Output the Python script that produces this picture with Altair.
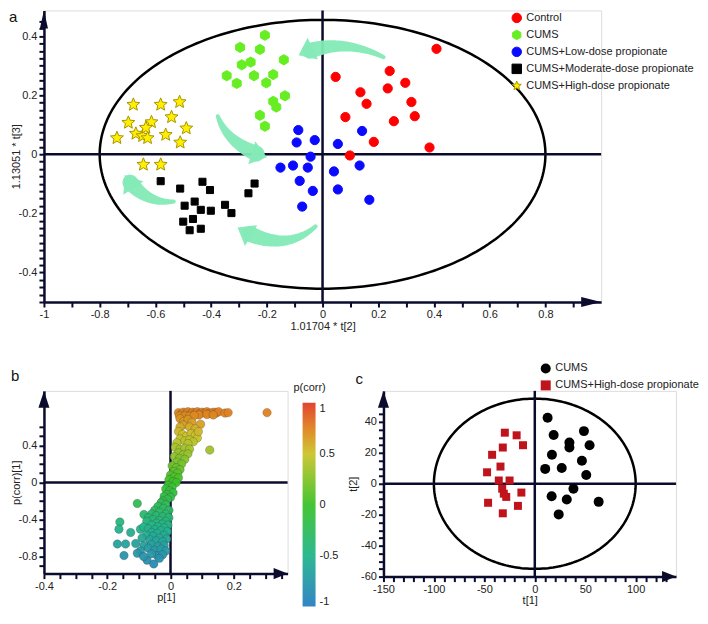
import math
import numpy as np
import pandas as pd
import altair as alt

FONT = "Liberation Sans"
NAVY = "#0b0b2e"
TXT = "#222222"

# ---------------- Panel a data (OPLS-DA scores) ----------------
a_groups = ["Control", "CUMS", "CUMS+Low-dose propionate",
            "CUMS+Moderate-dose propionate", "CUMS+High-dose propionate"]
ctrl_x = [0.409, 0.241, 0.297, 0.136, 0.234, 0.158, 0.319, 0.082, 0.331, 0.256, 0.184, 0.384, 0.098, 0.047]
ctrl_y = [0.357, 0.282, 0.242, 0.210, 0.223, 0.171, 0.177, 0.126, 0.129, 0.112, 0.042, 0.023, -0.004, 0.262]
cums_x = [-0.207, -0.296, -0.225, -0.139, -0.290, -0.258, -0.344, -0.246, -0.177, -0.308, -0.202, -0.135, -0.177, -0.166, -0.225, -0.207]
cums_y = [0.403, 0.362, 0.355, 0.320, 0.303, 0.312, 0.266, 0.266, 0.270, 0.240, 0.242, 0.198, 0.179, 0.160, 0.132, 0.095]
low_x = [-0.087, -0.093, -0.028, 0.055, -0.043, -0.151, -0.106, -0.053, 0.041, -0.082, -0.035, 0.055, -0.073, 0.142, 0.133, 0.168]
low_y = [0.082, 0.040, 0.048, 0.035, -0.008, -0.045, -0.038, -0.045, -0.058, -0.090, -0.124, -0.119, -0.177, 0.079, -0.038, -0.154]
mod_x = [-0.581, -0.511, -0.431, -0.404, -0.244, -0.266, -0.495, -0.459, -0.437, -0.401, -0.350, -0.327, -0.500, -0.465, -0.477, -0.437]
mod_y = [-0.091, -0.116, -0.093, -0.121, -0.099, -0.132, -0.174, -0.160, -0.188, -0.191, -0.171, -0.199, -0.228, -0.219, -0.257, -0.252]
high_x = [-0.679, -0.581, -0.513, -0.542, -0.697, -0.614, -0.489, -0.738, -0.670, -0.646, -0.628, -0.563, -0.511, -0.634, -0.643, -0.581]
high_y = [0.168, 0.168, 0.177, 0.126, 0.107, 0.109, 0.088, 0.055, 0.070, 0.062, 0.055, 0.066, 0.040, 0.090, -0.035, -0.035]

a_fill = ["#ff0000", "#66ee22", "#0a0aff", "#000000", "#ffee00"]
a_stroke = ["#ff0000", "#66ee22", "#0a0aff", "#000000", "#a89400"]
a_size = [85, 105, 85, 50, 185]

# curved arrows (tail, bend, tip) in data units of panel a
arrow_tail_x = [0.219, -0.376, -0.534, -0.025]
arrow_tail_y = [0.329, 0.129, -0.160, -0.244]
arrow_bend_x = [0.060, -0.340, -0.640, -0.140]
arrow_bend_y = [0.400, 0.030, -0.170, -0.340]
arrow_tip_x = [-0.086, -0.200, -0.710, -0.305]
arrow_tip_y = [0.335, -0.010, -0.070, -0.248]

# ---------------- Panel b data (S-plot) ----------------
corr_x = [0.025, 0.033, 0.040, 0.048, 0.055, 0.062, 0.070, 0.078, 0.085, 0.093, 0.100, 0.108, 0.115, 0.122,
          0.130, 0.138, 0.145, 0.152, 0.172, 0.182, 0.305, 0.028, 0.045, 0.060, 0.090, 0.115, 0.135, 0.075,
          0.030, 0.042, 0.055, 0.068, 0.040, 0.095, 0.060, 0.078, 0.030,
          0.025, 0.038, 0.050, 0.065, 0.078, 0.085, 0.030, 0.045, 0.060, 0.072, 0.020, 0.055, 0.088, 0.124,
          0.015, 0.030, 0.045, 0.060, 0.025, 0.040, 0.055, 0.012, 0.028, 0.045, 0.020, 0.035,
          0.005, 0.018, 0.030, 0.010, 0.022, 0.000, 0.012, 0.025, -0.005, 0.008, 0.018,
          -0.008, 0.005, -0.015, -0.002, 0.008, -0.012, -0.020, 0.000, -0.010, -0.025, -0.105,
          -0.030, -0.015, -0.040, -0.022, -0.005, -0.050, -0.035, -0.015, -0.060, -0.045, -0.025, -0.005,
          -0.084, -0.070, -0.055, -0.035, -0.015, -0.075, -0.045, -0.025, -0.008, -0.060, -0.160, -0.163,
          -0.126, -0.095, -0.085, -0.040, -0.020, -0.070, -0.050,
          -0.030, -0.010, -0.060, -0.042, -0.020, -0.075, -0.055, -0.035, -0.012, -0.090, -0.065, -0.045,
          -0.025, -0.168, -0.142, -0.110, -0.084, -0.060, -0.040, -0.020, -0.070, -0.050, -0.030, -0.015,
          -0.095, -0.147, -0.105, -0.074, -0.053, -0.042, -0.060, -0.025, -0.085, -0.035]
corr_y = [0.755, 0.735, 0.760, 0.745, 0.765, 0.740, 0.760, 0.750, 0.765, 0.745, 0.760, 0.750, 0.765, 0.745,
          0.755, 0.760, 0.750, 0.765, 0.750, 0.755, 0.755, 0.720, 0.720, 0.715, 0.730, 0.735, 0.730, 0.725,
          0.690, 0.660, 0.680, 0.650, 0.620, 0.630, 0.600, 0.580, 0.600,
          0.550, 0.520, 0.500, 0.530, 0.510, 0.480, 0.470, 0.450, 0.460, 0.440, 0.430, 0.420, 0.550, 0.350,
          0.380, 0.360, 0.370, 0.360, 0.320, 0.300, 0.310, 0.280, 0.260, 0.250, 0.220, 0.200,
          0.180, 0.160, 0.140, 0.120, 0.100, 0.080, 0.060, 0.050, 0.030, 0.010, 0.000,
          -0.030, -0.050, -0.070, -0.090, -0.110, -0.130, -0.150, -0.160, -0.180, -0.200, -0.227,
          -0.220, -0.240, -0.260, -0.280, -0.300, -0.300, -0.320, -0.340, -0.340, -0.360, -0.370, -0.380,
          -0.345, -0.380, -0.400, -0.410, -0.420, -0.420, -0.440, -0.450, -0.460, -0.460, -0.427, -0.505,
          -0.540, -0.505, -0.480, -0.480, -0.490, -0.500, -0.510,
          -0.520, -0.530, -0.540, -0.550, -0.570, -0.570, -0.580, -0.600, -0.610, -0.600, -0.620, -0.630,
          -0.640, -0.665, -0.665, -0.660, -0.680, -0.670, -0.690, -0.680, -0.710, -0.730, -0.720, -0.740,
          -0.740, -0.790, -0.765, -0.840, -0.880, -0.790, -0.770, -0.780, -0.800, -0.820]
corr_stops = [-1.0, -0.5, 0.0, 0.5, 0.75, 1.0]
corr_colors = ["#2a7ec2", "#22b58c", "#3cc22a", "#cbc42a", "#e0821f", "#e03a26"]

# ---------------- Panel c data (OPLS-DA scores) ----------------
c_groups = ["CUMS", "CUMS+High-dose propionate"]
c_cums_x = [12.7, 18.7, 34.3, 34.3, 48.7, 54.3, 17.0, 10.3, 26.7, 46.7, 51.0, 38.3, 16.7, 31.7, 23.7, 63.3]
c_cums_y = [42.6, 31.5, 26.6, 23.4, 34.0, 24.9, 18.7, 9.6, 10.2, 14.9, 5.7, -3.2, -8.1, -10.2, -19.8, -11.7]
c_high_x = [-29.7, -18.0, -11.7, -31.7, -42.3, -34.0, -47.3, -35.7, -25.0, -32.3, -30.7, -28.3, -13.3, -46.3, -16.7, -31.7]
c_high_y = [33.0, 31.3, 24.9, 23.4, 18.7, 11.1, 7.4, 2.1, 2.1, -3.2, -6.4, -8.5, -5.7, -12.3, -14.3, -19.1]
c_fill = ["#000000", "#c0141c"]
c_size = [100, 64]

# ---------------- geometry helpers ----------------
def star_path(r_in=0.45):
    pts = []
    for k in range(10):
        r = 1.0 if k % 2 == 0 else r_in
        ang = -math.pi / 2 + k * math.pi / 5
        pts.append((r * math.cos(ang), r * math.sin(ang)))
    return "M" + "L".join(f"{x:.3f},{y:.3f}" for x, y in pts) + "Z"


def hex_path():
    pts = []
    for k in range(6):
        ang = -math.pi / 2 + k * math.pi / 3
        pts.append((math.cos(ang), math.sin(ang)))
    return "M" + "L".join(f"{x:.3f},{y:.3f}" for x, y in pts) + "Z"


STAR = star_path()
HEX = hex_path()
ARR_R_A = "M0,0L-2,-0.5L-2,0.5Z"
ARR_U_A = "M0,0L-0.45,2L0.45,2Z"
ARR_R_B = "M0,0L-2,-0.8L-2,0.8Z"
ARR_U_B = "M0,0L-0.65,2L0.65,2Z"
HEAD = "M0,0L-1.15,1.5L1.15,1.5Z"


def ticks(lo, hi, step):
    n = int(round((hi - lo) / step))
    return [round(lo + i * step, 6) for i in range(n + 1)]


def axis(title, vals, major, **kw):
    return alt.Axis(
        title=title, values=vals, grid=False,
        labelExpr=f"abs(datum.value/{major} - round(datum.value/{major})) < 0.001 ? '' + datum.value : ''",
        labelOverlap=False, labelFlush=False,
        domainColor=NAVY, domainWidth=2.5, tickColor=NAVY, tickWidth=2, tickSize=5,
        labelFont=FONT, labelFontSize=11, labelColor=TXT, labelPadding=2,
        titleFont=FONT, titleFontSize=11, titleFontWeight="normal", titleColor=TXT, **kw)


def ellipse_df(rx, ry, n=241):
    t = np.linspace(0, 2 * np.pi, n)
    return pd.DataFrame({"x": rx * np.cos(t), "y": ry * np.sin(t), "i": np.arange(n)})


def panel_common(xenc, yenc, xdom, ydom, rpath, upath, asize, letter, lx, ly):
    rules = pd.DataFrame({"x": [xdom[0], 0.0], "x2": [xdom[1], 0.0],
                          "y": [0.0, ydom[0]], "y2": [0.0, ydom[1]]})
    rule = alt.Chart(rules).mark_rule(color=NAVY, strokeWidth=2.5).encode(
        x=xenc, y=yenc, x2="x2:Q", y2="y2:Q")
    ar = alt.Chart(pd.DataFrame({"x": [xdom[1]], "y": [ydom[0]]})).mark_point(
        shape=rpath, size=asize[0], filled=True, color=NAVY, opacity=1).encode(x=xenc, y=yenc)
    au = alt.Chart(pd.DataFrame({"x": [xdom[0]], "y": [ydom[1]]})).mark_point(
        shape=upath, size=asize[1], filled=True, color=NAVY, opacity=1).encode(x=xenc, y=yenc)
    lab = alt.Chart(pd.DataFrame({"label": [letter]})).mark_text(
        align="left", baseline="top", fontSize=15, font=FONT, color="#111").encode(
        x=alt.value(lx), y=alt.value(ly), text="label:N")
    return rule, ar, au, lab


def group_layers(df, field, groups, fills, strokes, shapes, sizes, legend, xenc, yenc, sw):
    layers = []
    for g, sz in zip(groups, sizes):
        layers.append(
            alt.Chart(df[df[field] == g]).mark_point(filled=True, opacity=1, size=sz, strokeWidth=sw).encode(
                x=xenc, y=yenc,
                fill=alt.Fill(f"{field}:N", scale=alt.Scale(domain=groups, range=fills), legend=legend),
                stroke=alt.Stroke(f"{field}:N", scale=alt.Scale(domain=groups, range=strokes), legend=legend),
                shape=alt.Shape(f"{field}:N", scale=alt.Scale(domain=groups, range=shapes), legend=legend),
            ))
    return layers


# ---------------- Panel a ----------------
A_XDOM = [-1.0, 1.0]
A_YDOM = [-0.5, 0.487]
W_A, H_A = 558, 292
PX_A = W_A / (A_XDOM[1] - A_XDOM[0])
PY_A = H_A / (A_YDOM[1] - A_YDOM[0])

xa = alt.X("x:Q", scale=alt.Scale(domain=A_XDOM, nice=False, zero=False),
           axis=axis("1.01704 * t[2]", ticks(-1, 0.9, 0.1), 0.2, titlePadding=1))
ya = alt.Y("y:Q", scale=alt.Scale(domain=A_YDOM, nice=False, zero=False),
           axis=axis("1.13051 * t[3]", ticks(-0.5, 0.45, 0.025), 0.2, titlePadding=-3))

a_df = pd.concat([
    pd.DataFrame({"x": xs, "y": ys, "group": g})
    for g, xs, ys in zip(a_groups, [ctrl_x, cums_x, low_x, mod_x, high_x],
                         [ctrl_y, cums_y, low_y, mod_y, high_y])
], ignore_index=True)

a_leg = alt.Legend(orient="none", legendX=468, legendY=2, title=None, labelFont=FONT,
                   labelFontSize=11, labelColor=TXT, symbolSize=90, rowPadding=2,
                   labelOffset=4, padding=0, symbolStrokeWidth=1, labelLimit=400)
a_points = group_layers(a_df, "group", a_groups, a_fill, a_stroke,
                        ["circle", HEX, "circle", "square", STAR], a_size, a_leg, xa, ya, 1)

a_ell = alt.Chart(ellipse_df(0.8, 0.455)).mark_line(color="#000000", strokeWidth=2.5).encode(
    x=xa, y=ya, order="i:Q")

# curved arrows
body_rows, head_rows = [], []
for k in range(len(arrow_tail_x)):
    p0 = np.array([arrow_tail_x[k], arrow_tail_y[k]])
    p1 = np.array([arrow_bend_x[k], arrow_bend_y[k]])
    p2 = np.array([arrow_tip_x[k], arrow_tip_y[k]])
    for t in np.linspace(0, 0.86, 24):
        p = (1 - t) ** 2 * p0 + 2 * (1 - t) * t * p1 + t ** 2 * p2
        body_rows.append({"x": p[0], "y": p[1], "t": t, "arrow": k, "w": 4 + 12 * t / 0.86})
    dx = (p2[0] - p1[0]) * PX_A
    dy = -(p2[1] - p1[1]) * PY_A
    ang = math.degrees(math.atan2(dx, -dy)) % 360
    head_rows.append({"x": p2[0], "y": p2[1], "ang": ang})

ARROW_COL = "#84eab6"
a_body = alt.Chart(pd.DataFrame(body_rows)).mark_trail(color=ARROW_COL, opacity=0.95).encode(
    x=xa, y=ya, detail="arrow:N", order="t:Q", size=alt.Size("w:Q", scale=None))
a_head = alt.Chart(pd.DataFrame(head_rows)).mark_point(
    shape=HEAD, size=440, filled=True, color=ARROW_COL, opacity=0.95).encode(
    x=xa, y=ya, angle=alt.Angle("ang:Q", scale=None))

a_rule, a_ar, a_au, a_lab = panel_common(xa, ya, A_XDOM, A_YDOM, ARR_R_A, ARR_U_A, (400, 324), "a", -35, 0)

panel_a = alt.layer(a_ell, a_rule, a_body, a_head, *a_points, a_ar, a_au, a_lab).properties(
    width=W_A, height=H_A)

# ---------------- Panel b ----------------
B_XDOM = [-0.4, 0.37]
B_YDOM = [-0.985, 0.99]
W_B, H_B = 244, 183
xb = alt.X("x:Q", scale=alt.Scale(domain=B_XDOM, nice=False, zero=False),
           axis=axis("p[1]", ticks(-0.4, 0.35, 0.05), 0.2, titlePadding=0))
yb = alt.Y("y:Q", scale=alt.Scale(domain=B_YDOM, nice=False, zero=False),
           axis=axis("p(corr)[1]", ticks(-0.9, 0.6, 0.1), 0.4, titlePadding=-3))

b_df = pd.DataFrame({"x": corr_x, "y": corr_y})
b_points = alt.Chart(b_df).mark_point(filled=True, opacity=0.95, size=72, stroke="#3a3a3a",
                                      strokeWidth=0.6, strokeOpacity=0.45).encode(
    x=xb, y=yb,
    fill=alt.Fill("y:Q", scale=alt.Scale(domain=corr_stops, range=corr_colors, interpolate="rgb"),
                  legend=alt.Legend(orient="none", legendX=259, legendY=12, direction="vertical",
                                    gradientLength=204, gradientThickness=13, title=None,
                                    values=[-1, -0.5, 0, 0.5, 1], labelExpr="'' + datum.value",
                                    labelFont=FONT, labelFontSize=11, labelColor=TXT, labelOffset=4,
                                    labelBaseline="middle", gradientStrokeWidth=0, padding=0)))
b_rule, b_ar, b_au, b_lab = panel_common(xb, yb, B_XDOM, B_YDOM, ARR_R_B, ARR_U_B, (196, 289), "b", -33, -22)
b_title = alt.Chart(pd.DataFrame({"label": ["p(corr)"]})).mark_text(
    align="center", baseline="middle", fontSize=11, font=FONT, color=TXT).encode(
    x=alt.value(266), y=alt.value(-3), text="label:N")

panel_b = alt.layer(b_rule, b_points, b_ar, b_au, b_lab, b_title).properties(width=W_B, height=H_B)

# ---------------- Panel c ----------------
C_XDOM = [-150, 140]
C_YDOM = [-60, 60]
W_C, H_C = 293, 186
xc = alt.X("x:Q", scale=alt.Scale(domain=C_XDOM, nice=False, zero=False),
           axis=axis("t[1]", ticks(-150, 130, 10), 50, titlePadding=0))
yc = alt.Y("y:Q", scale=alt.Scale(domain=C_YDOM, nice=False, zero=False),
           axis=axis("t[2]", ticks(-60, 45, 5), 20, titlePadding=2))

c_df = pd.concat([
    pd.DataFrame({"x": xs, "y": ys, "grp": g})
    for g, xs, ys in zip(c_groups, [c_cums_x, c_high_x], [c_cums_y, c_high_y])
], ignore_index=True)
c_leg = alt.Legend(orient="none", legendX=157, legendY=-28, title=None, labelFont=FONT,
                   labelFontSize=11, labelColor=TXT, symbolSize=100, rowPadding=5,
                   labelOffset=4, padding=0, symbolStrokeWidth=0, labelLimit=400)
c_points = group_layers(c_df, "grp", c_groups, c_fill, c_fill, ["circle", "square"], c_size,
                        c_leg, xc, yc, 0)
c_ell = alt.Chart(ellipse_df(100, 55)).mark_line(color="#000000", strokeWidth=2.5).encode(
    x=xc, y=yc, order="i:Q")
c_rule, c_ar, c_au, c_lab = panel_common(xc, yc, C_XDOM, C_YDOM, ARR_R_B, ARR_U_B, (196, 289), "c", -28, -19)

panel_c = alt.layer(c_ell, c_rule, *c_points, c_ar, c_au, c_lab).properties(width=W_C, height=H_C)

bottom = alt.hconcat(panel_b, panel_c, spacing=96, bounds="flush").resolve_scale(
    fill="independent", shape="independent", stroke="independent",
    x="independent", y="independent")

chart = alt.vconcat(panel_a, bottom, spacing=89, bounds="flush").resolve_scale(
    fill="independent", shape="independent", stroke="independent",
    x="independent", y="independent").properties(
    padding={"left": 0, "right": 0, "top": 0, "bottom": 0}
).configure_view(stroke=None).configure(font=FONT)

chart.save("out.html", embed_options={"renderer": "svg", "actions": False})
